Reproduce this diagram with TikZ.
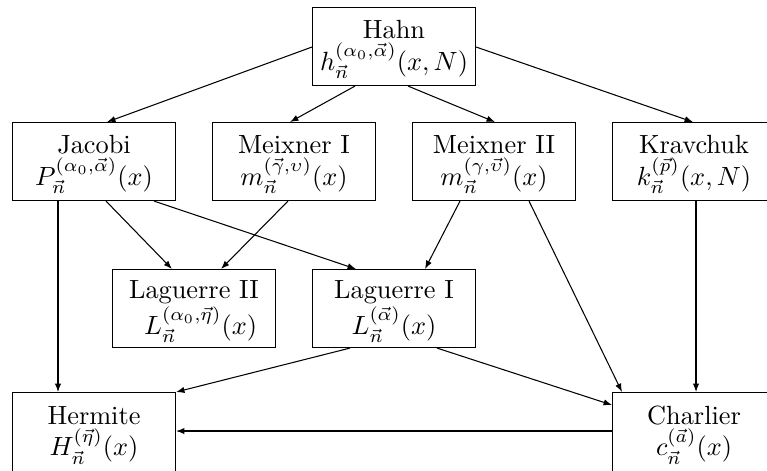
\documentclass[tikz,border=0pt]{standalone}
\usetikzlibrary{calc,arrows.meta}
\newcommand{\topstrut}{\rule{0pt}{9.2pt}}
\begin{document}
\begin{tikzpicture}[x=0.38pt,y=-0.38pt,
  box/.style={draw, anchor=north west, minimum width=61.94pt, minimum height=29.64pt, align=center, inner sep=1pt},
  conn/.style={-{Latex[length=3.2pt,width=2.4pt]}}]
\useasboundingbox (0,0) rectangle (767,470);
\clip (0,0) rectangle (767,470);
% row 1
\node[box] (Hahn) at (312,7) {\topstrut Hahn\\ $h_{\vec n}^{(\alpha_0,\vec\alpha)}(x,N)$};
% row 2
\node[box] (Jacobi) at (12,122) {\topstrut Jacobi\\ $P_{\vec n}^{(\alpha_0,\vec\alpha)}(x)$};
\node[box] (MeixI) at (212,122) {\topstrut Meixner I\\ $m_{\vec n}^{(\vec\gamma,\upsilon)}(x)$};
\node[box] (MeixII) at (412,122) {\topstrut Meixner II\\ $m_{\vec n}^{(\gamma,\vec\upsilon)}(x)$};
\node[box] (Krav) at (612,122) {\topstrut Kravchuk\\ $k_{\vec n}^{(\vec p)}(x,N)$};
% row 3
\node[box] (LagII) at (112,269) {\topstrut Laguerre II\\ \hspace{5pt}$L_{\vec n}^{(\alpha_0,\vec\eta)}(x)$};
\node[box] (LagI) at (312,269) {\topstrut Laguerre I\\ $L_{\vec n}^{(\vec\alpha)}(x)$};
% row 4
\node[box, minimum height=30.02pt] (Hermite) at (12,392) {\topstrut Hermite\\ $H_{\vec n}^{(\vec\eta)}(x)$};
\node[box, minimum height=30.02pt] (Charlier) at (612,392) {\topstrut Charlier\\ $c_{\vec n}^{(\vec a)}(x)$};
% connectors
\draw[conn] ($(Hahn.north west)+(0,40)$) -- ($(Jacobi.north west)+(95,0)$);
\draw[conn] ($(Hahn.south west)+(43,0)$) -- ($(MeixI.north west)+(78,0)$);
\draw[conn] ($(Hahn.south west)+(96,0)$) -- ($(MeixII.north west)+(83,0)$);
\draw[conn] ($(Hahn.north east)+(0,40)$) -- ($(Krav.north west)+(81,0)$);
\draw[conn] ($(Jacobi.south west)+(94,0)$) -- ($(LagII.north west)+(60,0)$);
\draw[conn] ($(Jacobi.south west)+(142,0)$) -- ($(LagI.north west)+(44,0)$);
\draw[conn] ($(MeixI.south west)+(76,0)$) -- ($(LagII.north west)+(109,0)$);
\draw[conn] ($(MeixII.south west)+(48,0)$) -- ($(LagI.north west)+(113,0)$);
\draw[conn] ($(MeixII.south west)+(117,0)$) -- ($(Charlier.north west)+(10,0)$);
\draw[conn] ($(Krav.south west)+(84,0)$) -- ($(Charlier.north west)+(84,0)$);
\draw[conn] ($(Jacobi.south west)+(46,0)$) -- ($(Hermite.north west)+(46,0)$);
\draw[conn] ($(LagI.south west)+(38,0)$) -- (Hermite.north east);
\draw[conn] ($(LagI.south west)+(125,0)$) -- ($(Charlier.north west)+(0,13)$);
\draw[conn] ($(Charlier.north west)+(0,39)$) -- ($(Hermite.north east)+(0,39)$);
\end{tikzpicture}
\end{document}
